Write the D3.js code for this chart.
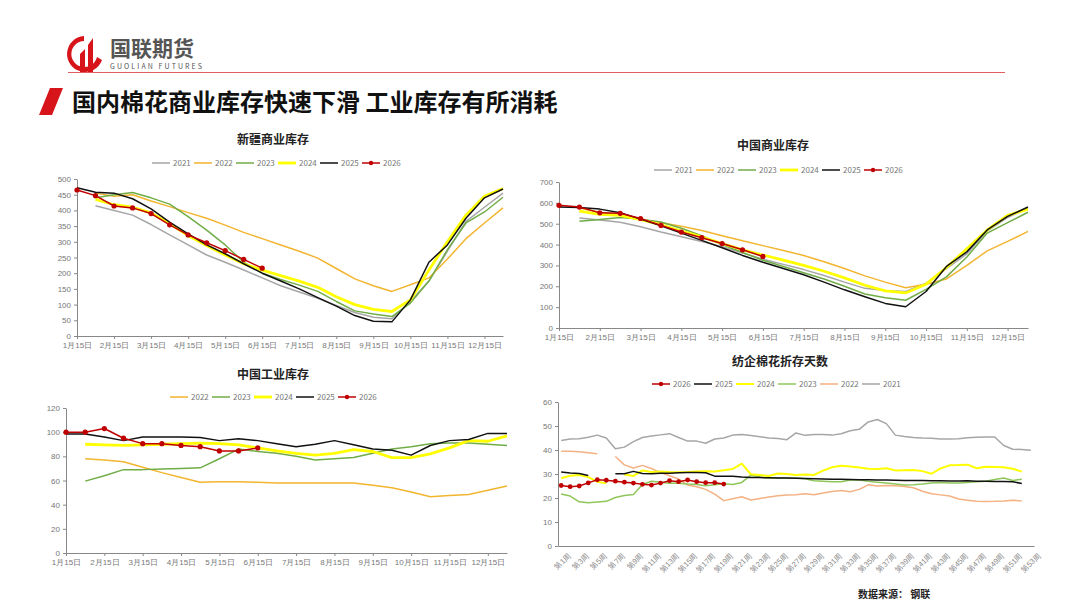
<!DOCTYPE html>
<html><head><meta charset="utf-8">
<script src="https://cdn.jsdelivr.net/npm/d3@7/dist/d3.min.js"></script>
<style>body{margin:0;background:#fff;font-family:"Noto Sans CJK SC","Noto Sans",sans-serif}</style>
</head><body><svg id="c" width="1080" height="608"></svg>
<script>
const monthLabels = ["1月15日","2月15日","3月15日","4月15日","5月15日","6月15日","7月15日","8月15日","9月15日","10月15日","11月15日","12月15日"];
const halfMonths = d3.range(24).map(i => i/2);
const N = null;
// 新疆商业库存
const xj2021 = [N,415,400,385,355,322,290,258,235,210,185,160,140,120,97,75,60,55,110,175,270,365,410,455];
const xj2022 = [N,455,445,450,430,412,393,375,353,330,310,290,270,248,215,182,160,142,163,185,245,310,360,408];
const xj2023 = [N,440,450,457,440,420,380,337,290,235,200,180,162,142,110,80,70,62,105,175,275,360,395,442];
const xj2024 = [N,435,418,410,392,358,320,288,258,230,210,192,175,155,125,100,85,78,115,210,300,385,445,470];
const xj2025 = [472,458,455,437,405,363,325,290,262,230,200,175,150,122,95,65,47,45,115,235,290,375,440,468];
const xj2026 = [465,447,414,408,390,354,322,297,272,244,216];
// 中国商业库存
const cn2021 = [N,527,518,507,485,460,438,415,390,360,330,305,280,252,220,190,180,175,215,285,355,465,530,575];
const cn2022 = [N,575,555,540,520,505,488,467,442,418,395,372,348,318,285,250,220,193,210,235,300,370,415,463];
const cn2023 = [N,512,520,530,522,508,478,442,400,362,325,295,265,235,200,163,145,133,185,245,340,455,505,555];
const cn2024 = [N,560,545,540,520,495,465,437,405,375,350,325,300,272,240,205,178,168,210,290,380,470,540,570];
const cn2025 = [580,578,570,553,522,490,455,420,385,348,315,285,255,220,183,150,118,102,175,295,365,470,535,580];
const cn2026 = [588,580,552,550,525,492,460,433,405,375,343];
// 中国工业库存
const gy2022 = [N,78,77,75.5,71,66.5,62.5,58.5,59,59,58.5,58,58,58,58,58,56,54,50.5,46.5,47.5,48.5,52,55.5];
const gy2023 = [N,59.5,64,69,69,69.5,70,70.5,78,86,84,82.5,80,77,78,79,82.5,86,88,90.5,91,91,90,89];
const gy2024 = [N,90,89.5,89,89.5,90,90.5,91,90.5,89.5,87,84.5,82.5,81,82.5,85.5,84,79,79,82,87,93,92.5,97];
const gy2025 = [98.5,98.5,96,93,96,96,96,95.5,93,94.5,93,90.5,88,90,93,89.5,86,85,81,89,93,94,99,99];
const gy2026 = [100,100,103,95,90.5,90.5,89,88,84.5,84.5,87];
// 纺企棉花折存天数
const weeks = d3.range(1,54);
const weekLabels = weeks.filter(w => w%2===1).map(w => "第"+w+"周");
const d2021 = [44,44.6,44.7,45.3,46.2,45,40.5,41.2,43.5,45.2,45.8,46.3,46.8,45.2,43.7,43.7,42.8,44.6,45,46.2,46.5,46,45.5,45,44.8,44.3,47.1,46.1,46.5,46.5,46.2,46.8,48,48.6,51.7,52.7,51,46.2,45.6,45.2,45,44.9,44.6,44.6,44.7,45.1,45.3,45.4,45.4,41.9,40.3,40.2,39.9];
const d2022 = [39.5,39.5,39.3,38.9,38.4,N,37.3,33.8,32.5,33.6,32.3,30.6,29.3,27.9,25.4,24.7,23.6,21.6,18.9,19.7,20.5,19.2,19.8,20.4,20.9,21.2,21.4,21.8,21.4,22.1,22.7,23.1,22.6,23.6,25.5,25,25.2,25.1,24.8,24.3,22.8,21.8,21.3,20.8,19.6,19.1,18.6,18.5,18.6,18.8,19.1,18.8];
const d2023 = [21.7,20.8,18.4,18,18.3,18.6,20.2,21,21.5,25.6,27,26.6,26.1,26.1,25.8,25.6,25.1,25.5,25.9,25.6,26.5,29.5,28.8,28.3,28.4,28.3,28.3,28,27.2,27,26.8,26.8,27.5,27.5,27,26.6,26.2,25.8,25.4,25.5,25.8,26.2,26.5,26.2,26.2,26.5,26.8,27,27.7,28.3,27.3,27.8];
const d2024 = [28.2,29.3,29.6,28.7,26.8,26.1,N,29.8,29.2,31.5,30.8,31,30.8,30.7,30.8,31,31.1,31,31.6,32.1,34.3,29.9,29.6,29.2,30.2,30,29.6,29.8,29.6,31.4,32.8,33.4,33.1,32.7,32.2,32.1,32.4,31.5,31.6,31.7,31.2,30.1,32.3,33.6,33.7,33.9,32.4,33,32.9,32.8,32.2,31];
const d2025 = [30.8,30.4,30.2,29.4,N,N,30.1,30.1,31.1,30.2,30.1,30.3,30.3,30.5,30.6,30.6,30.5,29.1,29.1,29.1,28.7,28.5,28.5,28.4,28.3,28.3,28.2,28.1,28,27.9,27.8,27.8,27.7,27.6,27.6,27.5,27.5,27.4,27.3,27.3,27.3,27.2,27.2,27.1,27.1,27.2,27,27,26.9,26.9,26.8,26];
const d2026 = [25.2,24.7,25,26.3,27.6,27.4,27,26.6,26.2,25.7,25.4,26.2,27.2,26.8,27.5,26.8,26.4,26.4,25.8];

const C = {y2021:"#a6a6a6",y2022:"#f2b530",y2023:"#70ad47",y2024:"#ffff00",y2025:"#111111",y2026:"#c00000",o2022:"#f4b183",g2023:"#8fc65a"};
const W = {y2024:2.8};

const svg = d3.select("#c");
// header
const lg = svg.append("g");
lg.append("path").attr("d","M84,36 A18,18 0 1,0 102,60 L97,57 A13,13 0 1,1 84,41 Z").attr("fill","#d7141a");
lg.append("path").attr("d","M80,72 L80,54 L85,49 L85,72 Z M88,72 L88,45 L93,38 L93,72 Z").attr("fill","#d7141a");
svg.append("text").attr("x",110).attr("y",56).attr("font-size",21).attr("font-weight","bold").attr("fill","#555").text("国联期货");
svg.append("text").attr("x",110).attr("y",69).attr("font-size",7).attr("fill","#555").attr("textLength",92).text("GUOLIAN FUTURES");
svg.append("line").attr("x1",68).attr("x2",1005).attr("y1",72.5).attr("y2",72.5).attr("stroke","#e06060").attr("stroke-width",1);
svg.append("path").attr("d","M50,88 L63,88 L52,115 L39,115 Z").attr("fill","#d7141a");
svg.append("text").attr("x",72).attr("y",111).attr("font-size",24).attr("font-weight","bold").attr("fill","#111").text("国内棉花商业库存快速下滑 工业库存有所消耗");

function legend(cx, y, items){
  const g = svg.append("g").attr("font-size",8).attr("fill","#666");
  const iw = 42; const total = items.length*iw;
  items.forEach((it,i)=>{
    const x = cx - total/2 + i*iw;
    g.append("line").attr("x1",x).attr("x2",x+18).attr("y1",y).attr("y2",y).attr("stroke",it.c).attr("stroke-width",it.w||1.5);
    if(it.m) g.append("circle").attr("cx",x+9).attr("cy",y).attr("r",2.2).attr("fill",it.c);
    g.append("text").attr("x",x+21).attr("y",y+3).attr("fill","#777").text(it.n);
  });
}

function monthChart(o){
  const x = d3.scaleLinear().domain([0,11.5]).range([o.x0,o.x1]);
  const y = d3.scaleLinear().domain([0,o.ymax]).range([o.y0,o.y1]);
  svg.append("text").attr("x",o.tx).attr("y",o.ty).attr("text-anchor","middle").attr("font-size",12).attr("font-weight","bold").attr("fill","#222").text(o.title);
  const ga = svg.append("g").attr("transform",`translate(${o.x0},0)`).call(d3.axisLeft(y).tickValues(d3.range(0,o.ymax+1,o.step)).tickSize(3).tickSizeOuter(0));
  ga.select(".domain").attr("stroke","#888"); ga.selectAll("line").attr("stroke","#888");
  ga.selectAll("text").attr("fill","#777").attr("font-size",8).attr("font-family","Liberation Sans, Arial");
  const gx = svg.append("g").attr("transform",`translate(0,${o.y0})`).call(d3.axisBottom(x).tickValues(d3.range(12)).tickFormat(i=>monthLabels[i]).tickSize(3).tickSizeOuter(0));
  gx.select(".domain").attr("stroke","#888"); gx.selectAll("line").attr("stroke","#888");
  gx.selectAll("text").attr("fill","#777").attr("font-size",8);
  const line = d3.line().defined(d=>d[1]!=null).x(d=>x(d[0])).y(d=>y(d[1]));
  o.series.forEach(s=>{
    const pts = s.v.map((v,i)=>[halfMonths[i],v]);
    svg.append("path").attr("d",line(pts)).attr("fill","none").attr("stroke",s.c).attr("stroke-width",s.w||1.5).attr("stroke-linejoin","round");
    if(s.m) pts.forEach(p=>svg.append("circle").attr("cx",x(p[0])).attr("cy",y(p[1])).attr("r",2.6).attr("fill",s.c));
  });
}

const six = (a,b,c,d,e,f)=>[
  {n:"2021",v:a,c:C.y2021},{n:"2022",v:b,c:C.y2022},{n:"2023",v:c,c:C.y2023},
  {n:"2024",v:d,c:C.y2024,w:W.y2024},{n:"2025",v:e,c:C.y2025},{n:"2026",v:f,c:C.y2026,m:true}];

const s1 = six(xj2021,xj2022,xj2023,xj2024,xj2025,xj2026);
monthChart({title:"新疆商业库存",tx:273,ty:144,x0:77,x1:503,y0:336,y1:179,ymax:500,step:50,series:s1});
legend(278,163,s1);
const s2 = six(cn2021,cn2022,cn2023,cn2024,cn2025,cn2026);
monthChart({title:"中国商业库存",tx:773,ty:150,x0:559,x1:1028,y0:328,y1:182,ymax:700,step:100,series:s2});
legend(780,170,s2);
const s3 = six(null,gy2022,gy2023,gy2024,gy2025,gy2026).slice(1);
monthChart({title:"中国工业库存",tx:273,ty:379,x0:66,x1:507,y0:553,y1:408,ymax:120,step:20,series:s3});
legend(275,397,s3);

// weekly chart
(function(){
  const x0=558,x1=1034;
  const x = d3.scaleLinear().domain([0.65,53.35]).range([x0,x1]);
  const y = d3.scaleLinear().domain([0,60]).range([546,402]);
  svg.append("text").attr("x",780).attr("y",366).attr("text-anchor","middle").attr("font-size",12).attr("font-weight","bold").attr("fill","#222").text("纺企棉花折存天数");
  const ga = svg.append("g").attr("transform",`translate(${x0},0)`).call(d3.axisLeft(y).ticks(6).tickSize(3).tickSizeOuter(0));
  ga.select(".domain").attr("stroke","#888"); ga.selectAll("line").attr("stroke","#888");
  ga.selectAll("text").attr("fill","#777").attr("font-size",8).attr("font-family","Liberation Sans, Arial");
  const gx = svg.append("g").attr("transform","translate(0,546)").call(d3.axisBottom(x).tickValues(weeks.filter(w=>w%2===1)).tickFormat((w,i)=>weekLabels[i]).tickSize(0).tickSizeOuter(0));
  gx.select(".domain").attr("stroke","#888");
  gx.selectAll("text").attr("fill","#888").attr("font-size",7.5).attr("text-anchor","end").attr("transform","translate(4,4) rotate(-45)");
  const line = d3.line().defined(d=>d[1]!=null).x(d=>x(d[0])).y(d=>y(d[1]));
  const ser = [
    {n:"2021",v:d2021,c:C.y2021},{n:"2022",v:d2022,c:C.o2022},{n:"2023",v:d2023,c:C.g2023},
    {n:"2024",v:d2024,c:C.y2024,w:2},{n:"2025",v:d2025,c:C.y2025},{n:"2026",v:d2026,c:C.y2026,m:true}];
  ser.forEach(s=>{
    const pts = s.v.map((v,i)=>[weeks[i],v]);
    svg.append("path").attr("d",line(pts)).attr("fill","none").attr("stroke",s.c).attr("stroke-width",s.w||1.5).attr("stroke-linejoin","round");
    if(s.m) pts.forEach(p=>svg.append("circle").attr("cx",x(p[0])).attr("cy",y(p[1])).attr("r",2.4).attr("fill",s.c));
  });
  legend(778,384,ser.slice().reverse());
  svg.append("text").attr("x",858).attr("y",598).attr("font-size",10).attr("font-weight","bold").attr("fill","#222").text("数据来源：   钢联");
})();
</script></body></html>
